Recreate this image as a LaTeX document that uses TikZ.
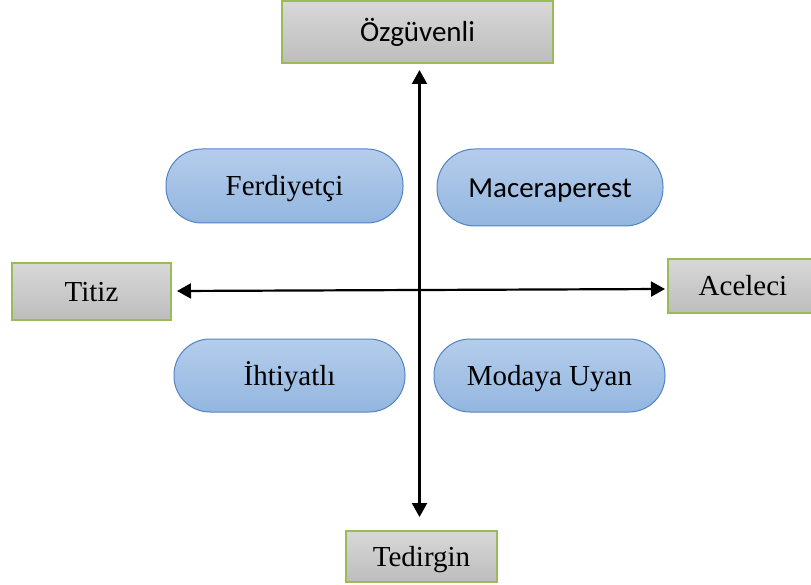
\documentclass[tikz,border=0pt]{standalone}
\usepackage{fontspec}
\setmainfont{Liberation Serif}
\newfontfamily\calib{Carlito}
\usetikzlibrary{arrows.meta}
\definecolor{boxtop}{HTML}{D8D8D8}
\definecolor{boxbot}{HTML}{BDBDBD}
\definecolor{boxline}{HTML}{9BBB59}
\definecolor{pilltop}{HTML}{B5CDEB}
\definecolor{pillbot}{HTML}{93B6E0}
\definecolor{pillline}{HTML}{5284C4}
\begin{document}
\begin{tikzpicture}[x=1pt,y=-1pt,
  graybox/.style={draw=boxline, line width=1.3pt, top color=boxtop, bottom color=boxbot,
    inner sep=0pt, text height=20pt, text depth=0pt, font=\fontsize{29}{34}\selectfont},
  pill/.style={draw=pillline, line width=1pt, top color=pilltop, bottom color=pillbot,
    inner sep=0pt, text height=20pt, text depth=0pt, minimum height=74pt, rounded corners=36pt,
    font=\fontsize{29}{34}\selectfont},
  axis/.style={line width=2.2pt, {Triangle[length=14pt,width=15pt]}-{Triangle[length=14pt,width=15pt]}}
]
\useasboundingbox (0,0) rectangle (811,585);
\fill[white] (0,0) rectangle (811,585);

% axis end boxes
\node[graybox, minimum width=271pt, minimum height=62pt] (ozg) at (417.5,32) {\calib Özgüvenli};
\node[graybox, minimum width=151pt, minimum height=51pt] (ted) at (421.5,556.5) {Tedirgin};
\node[graybox, minimum width=159pt, minimum height=57pt] (tit) at (91.5,291.5) {Titiz};
\node[graybox, minimum width=150pt, minimum height=54pt] (ace) at (743,286) {Aceleci};

% quadrant pills
\node[pill, minimum width=237pt] (fer) at (284.5,186) {Ferdiyetçi};
\node[pill, minimum width=226pt, minimum height=77pt, rounded corners=38pt] (mac) at (550,187.5) {\calib Maceraperest};
\node[pill, minimum width=231pt, minimum height=73pt] (iht) at (289.5,375.5) {İhtiyatlı};
\node[pill, minimum width=231pt, minimum height=73pt] (mod) at (549.5,375.5) {Modaya Uyan};

% axis tips
\coordinate (vtop) at (419.5,70);
\coordinate (vbot) at (419.5,517);
\coordinate (hleft) at (177,291);
\coordinate (hright) at (665,289);

\draw[axis] (vtop) -- (vbot);
\draw[axis] (hleft) -- (hright);
\end{tikzpicture}
\end{document}
